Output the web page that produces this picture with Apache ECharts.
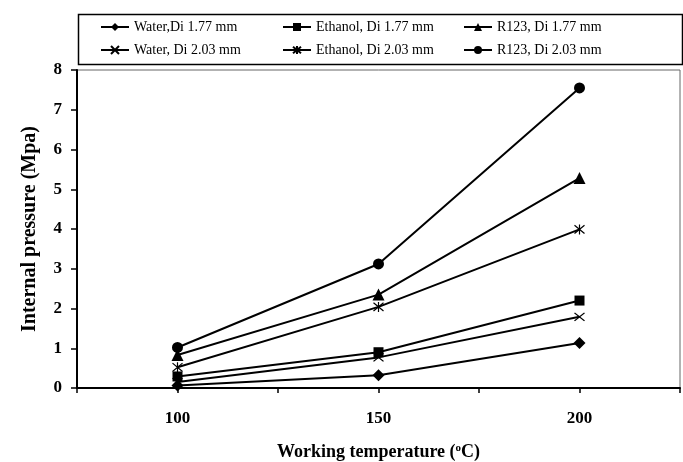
<!DOCTYPE html>
<html>
<head>
<meta charset="utf-8">
<script src="https://cdn.jsdelivr.net/npm/echarts@6/dist/echarts.min.js"></script>
<style>html,body{margin:0;padding:0;background:#fff}#c{width:683px;height:462px}</style>
</head>
<body>
<div id="c"></div>
<script>
var temps = [100, 150, 200];
var xTicks = [100, 150, 200];
var water177 = [0.06, 0.32, 1.13];
var ethanol177 = [0.29, 0.90, 2.20];
var r123_177 = [0.83, 2.35, 5.28];
var water203 = [0.15, 0.77, 1.79];
var ethanol203 = [0.52, 2.04, 3.99];
var r123_203 = [1.02, 3.12, 7.55];
var names = ['Water,Di 1.77 mm', 'Ethanol, Di 1.77 mm', 'R123, Di 1.77 mm',
             'Water, Di 2.03 mm', 'Ethanol, Di 2.03 mm', 'R123, Di 2.03 mm'];

var SERIF = '"Liberation Serif","Times New Roman",serif';
var crossPath = 'path://M0,0L10,10M10,0L0,10';
var starPath = 'path://M0,0L10,10M10,0L0,10M5,-1L5,11';

function pts(vals) { return temps.map(function (t, i) { return [t, vals[i]]; }); }

function mk(name, vals, symbol, size, stroke) {
  return {
    name: name, type: 'line', data: pts(vals),
    symbol: symbol, symbolSize: size,
    lineStyle: { color: '#000', width: 2 },
    itemStyle: stroke ? { color: 'rgba(0,0,0,0)', borderColor: '#000', borderWidth: 1.2 }
                      : { color: '#000', borderWidth: 0 },
    emphasis: { disabled: true },
    z: 3
  };
}

var series = [
  mk(names[0], water177, 'diamond', 12, false),
  mk(names[1], ethanol177, 'rect', 10, false),
  mk(names[2], r123_177, 'triangle', 12, false),
  mk(names[3], water203, crossPath, [10, 8], true),
  mk(names[4], ethanol203, starPath, 10, true),
  mk(names[5], r123_203, 'circle', 11, false)
];

var legLeft = [100, 282, 463];
var legTop = [20, 43];
var legends = names.map(function (n, i) {
  return {
    data: [n], left: legLeft[i % 3], top: legTop[Math.floor(i / 3)],
    padding: 0, itemWidth: 28, itemHeight: 10, itemGap: 0,
    selectedMode: false,
    textStyle: { fontFamily: SERIF, fontSize: 14, color: '#000', padding: [0, 0, 0, 0] }
  };
});

var chart = echarts.init(document.getElementById('c'));
chart.setOption({
  animation: false,
  backgroundColor: '#fff',
  legend: legends,
  graphic: [{
    type: 'rect', left: 76, top: 12,
    shape: { width: 604, height: 50 },
    style: { fill: 'none', stroke: '#000', lineWidth: 1.5 }
  }],
  grid: { left: 77, right: 3, top: 70, bottom: 74, show: true, borderColor: '#666', borderWidth: 1,
          containLabel: false, outerBoundsMode: 'none' },
  xAxis: {
    type: 'value', min: 75, max: 225, interval: 25,
    name: 'Working temperature ({sup|o}C)',
    nameLocation: 'middle', nameGap: 55,
    nameTextStyle: { fontFamily: SERIF, fontSize: 18, fontWeight: 'bold', color: '#000',
      rich: { sup: { fontFamily: SERIF, fontSize: 11, fontWeight: 'bold', verticalAlign: 'top', padding: [0, 0, 8, 0] } } },
    axisLine: { show: true, lineStyle: { color: '#000', width: 2 } },
    axisTick: { show: true, inside: false, length: 5, lineStyle: { color: '#000', width: 1.5 } },
    splitLine: { show: false },
    axisLabel: {
      margin: 22, fontFamily: SERIF, fontSize: 17, fontWeight: 'bold', color: '#000',
      formatter: function (v) { return xTicks.indexOf(v) >= 0 ? String(v) : ''; }
    }
  },
  yAxis: {
    type: 'value', min: 0, max: 8, interval: 1,
    name: 'Internal pressure (Mpa)',
    nameLocation: 'middle', nameGap: 37,
    nameTextStyle: { fontFamily: SERIF, fontSize: 20, fontWeight: 'bold', color: '#000' },
    axisLine: { show: true, lineStyle: { color: '#000', width: 2 } },
    axisTick: { show: true, inside: false, length: 6, lineStyle: { color: '#000', width: 1.5 } },
    splitLine: { show: false },
    axisLabel: { margin: 15, fontFamily: SERIF, fontSize: 17, fontWeight: 'bold', color: '#000' }
  },
  series: series
});
</script>
</body>
</html>
